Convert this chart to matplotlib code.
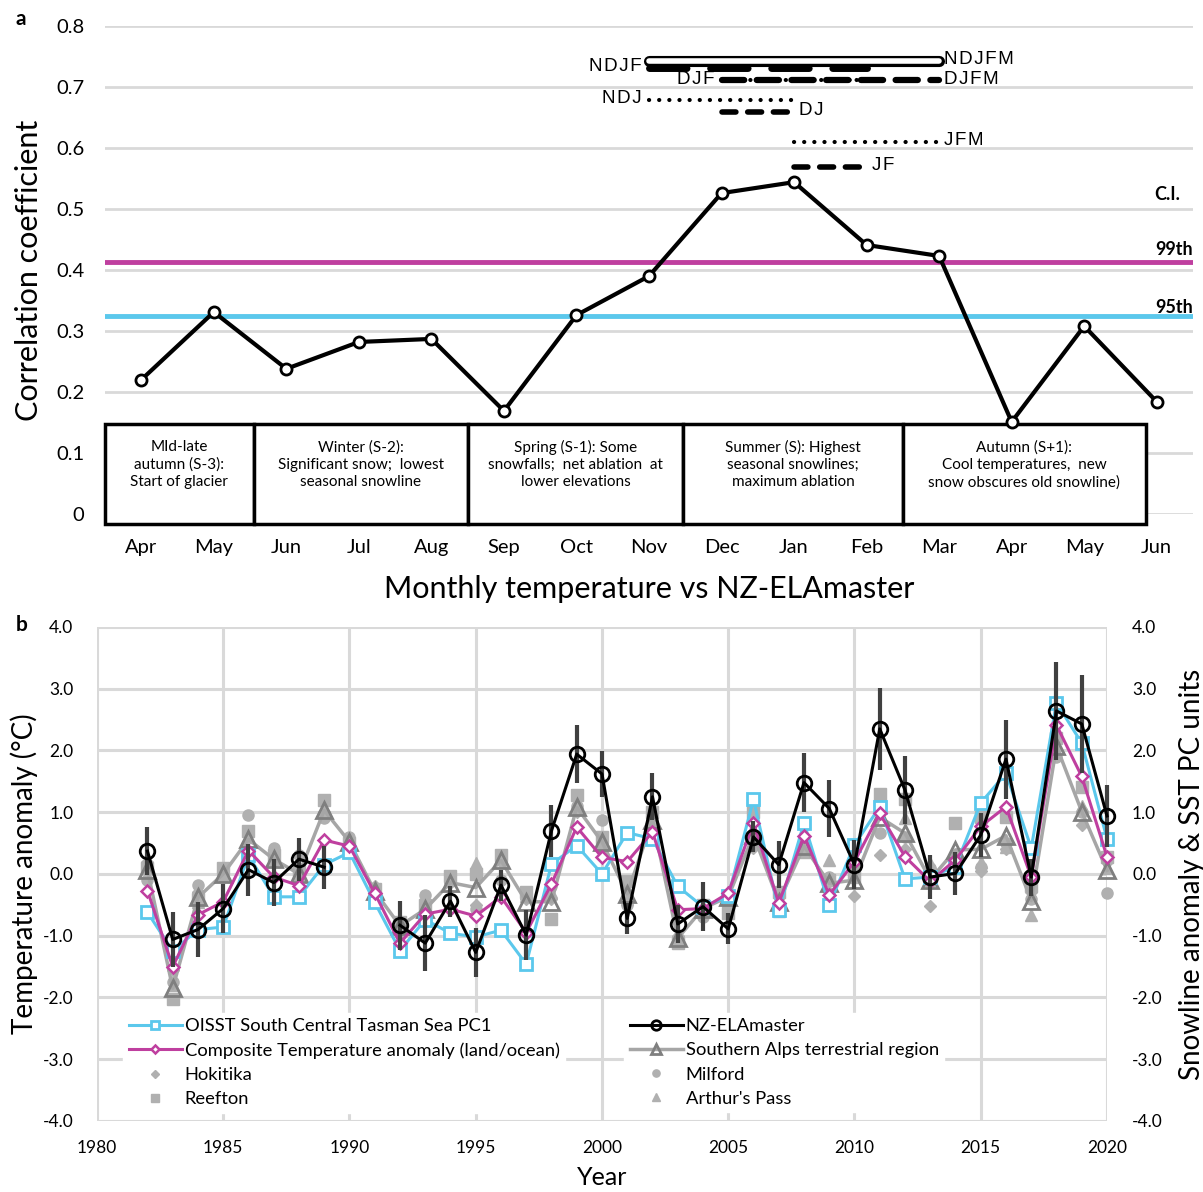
import numpy as np
import matplotlib.pyplot as plt
from matplotlib.patches import Rectangle

plt.rcParams['font.family'] = ['Lato', 'DejaVu Sans']
plt.rcParams['lines.scale_dashes'] = False

# ---- panel a: correlation of monthly temperature vs NZ-ELAmaster ----
months = ["Apr", "May", "Jun", "Jul", "Aug", "Sep", "Oct", "Nov",
          "Dec", "Jan", "Feb", "Mar", "Apr", "May", "Jun"]
corr = [0.220, 0.331, 0.238, 0.282, 0.287, 0.169, 0.326, 0.390,
        0.526, 0.544, 0.441, 0.423, 0.151, 0.308, 0.184]
ci_95 = 0.325
ci_99 = 0.413

seasons = ["NDJFM", "NDJF", "DJFM", "DJF", "NDJ", "DJ", "JFM", "JF"]
season_start = ["Nov", "Nov", "Dec", "Dec", "Nov", "Dec", "Jan", "Jan"]
season_end = ["Mar", "Feb", "Mar", "Feb", "Jan", "Jan", "Mar", "Feb"]
season_corr = [0.743, 0.731, 0.711, 0.711, 0.679, 0.659, 0.610, 0.569]

box_edges = [-0.5, 1.55, 4.5, 7.47, 10.5, 13.85]
box_texts = [
    "MId-late\nautumn (S-3):\nStart of glacier",
    "Winter (S-2):\nSignificant snow;  lowest\nseasonal snowline",
    "Spring (S-1): Some\nsnowfalls;  net ablation  at\nlower elevations",
    "Summer (S): Highest\nseasonal snowlines;\nmaximum ablation",
    "Autumn (S+1):\nCool temperatures,  new\nsnow obscures old snowline)",
]

# ---- panel b: temperature / snowline anomalies ----
years = list(range(1982, 2021))
oisst = [-0.62, -1.25, -0.90, -0.86, 0.30, -0.37, -0.37, 0.15, 0.35, -0.46,
         -1.24, -0.74, -0.96, -1.02, -0.91, -1.46, 0.16, 0.46, 0.00, 0.67,
         0.57, -0.20, -0.53, -0.36, 1.21, -0.59, 0.83, -0.50, 0.47, 1.09,
         -0.08, -0.05, 0.12, 1.15, 1.63, 0.42, 2.77, 2.12, 0.57]
nzela = [0.37, -1.06, -0.90, -0.56, 0.07, -0.14, 0.24, 0.11, np.nan, np.nan,
         -0.83, -1.12, -0.44, -1.27, -0.18, -0.99, 0.70, 1.94, 1.62, -0.72,
         1.25, -0.81, -0.53, -0.89, 0.60, 0.15, 1.48, 1.06, 0.15, 2.35,
         1.36, -0.05, 0.01, 0.63, 1.86, -0.05, 2.64, 2.43, 0.94]
nzela_err = [0.39, 0.45, 0.45, 0.39, 0.42, 0.38, 0.35, 0.35, np.nan, np.nan,
             0.40, 0.45, 0.25, 0.40, 0.25, 0.40, 0.42, 0.47, 0.37, 0.25,
             0.38, 0.30, 0.40, 0.25, 0.25, 0.38, 0.48, 0.46, 0.40, 0.66,
             0.55, 0.35, 0.35, 0.35, 0.64, 0.30, 0.80, 0.80, 0.50]
composite = [-0.27, -1.50, -0.66, -0.45, 0.38, -0.05, -0.19, 0.55, 0.45, -0.31,
             -1.12, -0.65, -0.57, -0.68, -0.37, -0.95, -0.16, 0.76, 0.27, 0.20,
             0.68, -0.58, -0.56, -0.31, 0.83, -0.47, 0.62, -0.34, 0.20, 0.98,
             0.28, -0.12, 0.23, 0.77, 1.09, -0.05, 2.41, 1.58, 0.28]
south_alps = [0.06, -1.85, -0.38, 0.00, 0.56, 0.24, 0.00, 1.03, 0.52, -0.28,
              -0.84, -0.57, -0.14, -0.22, 0.22, -0.45, -0.45, 1.08, 0.52, -0.32,
              0.87, -1.04, -0.56, -0.37, 0.63, -0.45, 0.45, -0.15, -0.10, 0.92,
              0.66, -0.09, 0.39, 0.40, 0.62, -0.43, 2.07, 1.01, 0.06]
hokitika = [0.20, -1.55, -0.30, 0.00, 0.65, 0.20, 0.10, 1.00, 0.50, -0.20,
            -0.90, -0.60, -0.15, -0.50, 0.20, -0.40, -0.40, 1.00, 0.40, -0.30,
            0.75, -1.00, -0.55, -0.40, 0.42, -0.50, 0.50, -0.30, -0.35, 0.31,
            0.40, -0.52, 0.20, 0.05, 0.40, -0.30, 2.00, 0.79, 0.20]
milford = [-0.10, -1.75, -0.18, -0.05, 0.95, 0.42, 0.30, 0.90, 0.60, -0.30,
           -0.95, -0.34, -0.10, -0.56, -0.10, -0.29, -0.20, 1.10, 0.87, -0.50,
           0.80, -1.05, -0.69, -0.50, 0.55, -0.35, 0.40, -0.05, 0.10, 0.66,
           0.60, 0.10, 0.30, 0.12, 0.50, -0.40, 1.90, 1.00, -0.31]
reefton = [0.10, -2.02, -0.40, 0.10, 0.70, 0.30, 0.05, 1.19, 0.50, -0.25,
           -0.77, -0.50, -0.04, 0.00, 0.30, -0.30, -0.73, 1.28, 0.60, -0.12,
           1.00, -1.12, -0.50, -0.64, 1.00, -0.30, 0.40, -0.10, -0.05, 1.29,
           1.21, -0.10, 0.82, 0.93, 0.93, -0.20, 2.20, 1.41, 0.28]
arthurs = [0.10, -1.80, -0.45, 0.05, 0.60, 0.25, 0.00, 1.05, 0.55, -0.30,
           -0.85, -0.55, -0.10, 0.17, 0.25, -0.35, -0.30, 1.15, 0.50, -0.40,
           0.60, -0.95, -0.50, -0.30, 0.70, -0.60, 0.35, 0.23, 0.05, 1.30,
           0.90, 0.18, 0.30, 0.20, 0.44, -0.66, 2.10, 1.10, 0.10]

MAGENTA = "#bf3f9f"
CYAN = "#5bc8ec"
GRID = "#d9d9d9"
STATION = "#b0b0b0"

fig = plt.figure(figsize=(12.03, 11.92), dpi=100)

# ================= panel a =================
ax = fig.add_axes([0.0873, 0.5688, 0.9044, 0.4094])
x = np.arange(len(months))
ax.set_xlim(-0.5, len(months) - 0.5)
ax.set_ylim(0, 0.8)
ax.set_yticks(np.arange(0, 0.81, 0.1))
ax.set_yticklabels(["0"] + ["%.1f" % v for v in np.arange(0.1, 0.81, 0.1)])
ax.set_xticks(x)
ax.set_xticklabels(months)
ax.tick_params(length=0, labelsize=14.5)
ax.tick_params(axis='y', pad=15)
ax.tick_params(axis='x', pad=18)
for s in ax.spines.values():
    s.set_visible(False)
ax.grid(axis='y', color=GRID, lw=2, zorder=0)
ax.set_axisbelow(True)

ax.axhline(ci_99, color=MAGENTA, lw=3.5, zorder=2)
ax.axhline(ci_95, color=CYAN, lw=3.5, zorder=2)
yt = ax.get_yaxis_transform()
ax.text(0.988, 0.523, "C.I.", transform=yt, ha='right', va='center',
        fontsize=13, fontweight='bold')
ax.text(1.0, ci_99 + 0.021, "99th", transform=yt, ha='right', va='center',
        fontsize=13, fontweight='bold')
ax.text(1.0, ci_95 + 0.014, "95th", transform=yt, ha='right', va='center',
        fontsize=13, fontweight='bold')

# season boxes
for i, txt in enumerate(box_texts):
    x0, x1 = box_edges[i], box_edges[i + 1]
    ax.add_patch(Rectangle((x0, -0.016), x1 - x0, 0.164, facecolor='white',
                           edgecolor='black', lw=2.5, clip_on=False, zorder=3))
    ax.text((x0 + x1) / 2, 0.081, txt, ha='center', va='center', fontsize=11,
            linespacing=1.3, zorder=4)

ax.plot(x, corr, color='black', lw=3, marker='o', ms=8, mfc='white',
        mec='black', mew=2, zorder=5, clip_on=False)

# seasonal window bars
styles = {
    "NDJF": dict(lw=5, ls=(0, (27, 17)), dash_capstyle='round'),
    "DJFM": dict(lw=4.5, ls=(0, (16, 9)), dash_capstyle='round'),
    "DJF": dict(lw=3, ls=(0, (0.1, 5)), dash_capstyle='round'),
    "NDJ": dict(lw=3, ls=(0, (0.1, 7.2)), dash_capstyle='round'),
    "JFM": dict(lw=3, ls=(0, (0.1, 7.2)), dash_capstyle='round'),
    "DJ": dict(lw=4, ls=(0, (10, 8.5)), dash_capstyle='round'),
    "JF": dict(lw=4, ls=(0, (10, 8.5)), dash_capstyle='round'),
}
left_label = ["NDJF", "DJF", "NDJ"]
label_font = ['Liberation Sans', 'DejaVu Sans']
for name, s0, s1, c in zip(seasons, season_start, season_end, season_corr):
    xs = [months.index(s0), months.index(s1)]
    if name == "NDJFM":
        ax.plot(xs, [c, c], color='black', lw=8, solid_capstyle='round', zorder=6)
        ax.plot(xs, [c, c], color='white', lw=4, solid_capstyle='round', zorder=6)
    else:
        ax.plot(xs, [c, c], color='black', zorder=6, **styles[name])
    spaced = "\u200a".join(name)
    if name in left_label:
        ax.text(xs[0] - 0.1, c + 0.002, spaced, ha='right', va='center',
                fontsize=13.5, family=label_font, zorder=7)
    else:
        ax.text(xs[1] + 0.07, c + 0.002, spaced, ha='left', va='center',
                fontsize=13.5, family=label_font, zorder=7)

ax.set_ylabel("Correlation coefficient", fontsize=22, labelpad=9)
ax.set_xlabel("Monthly temperature vs NZ-ELAmaster", fontsize=22, labelpad=14)
fig.text(0.013, 0.984, "a", fontsize=15, fontweight='bold', va='center')

# ================= panel b =================
bx = fig.add_axes([0.0806, 0.0596, 0.8396, 0.4144])
bx.set_xlim(1980, 2020)
bx.set_ylim(-4, 4)
bx.set_xticks(range(1980, 2021, 5))
bx.set_yticks(np.arange(-4, 4.01, 1))
bx.yaxis.set_major_formatter(plt.FormatStrFormatter('%.1f'))
bx.tick_params(length=0, labelsize=12.5)
bx.tick_params(axis='y', pad=17)
bx.tick_params(axis='x', pad=14)
for s in bx.spines.values():
    s.set_visible(False)
bx.grid(True, color=GRID, lw=2.2, zorder=0)
bx.set_axisbelow(True)

bxr = bx.twinx()
bxr.set_ylim(-4, 4)
bxr.set_yticks(np.arange(-4, 4.01, 1))
bxr.yaxis.set_major_formatter(plt.FormatStrFormatter('%.1f'))
bxr.tick_params(length=0, labelsize=12.5, pad=18)
for s in bxr.spines.values():
    s.set_visible(False)
bxr.set_ylabel("Snowline anomaly & SST PC units", fontsize=20, labelpad=12)

h_hok, = bx.plot(years, hokitika, ls='none', marker='D', ms=6, color=STATION,
                 zorder=2, clip_on=False)
h_mil, = bx.plot(years, milford, ls='none', marker='o', ms=8, color=STATION,
                 zorder=2, clip_on=False)
h_ree, = bx.plot(years, reefton, ls='none', marker='s', ms=8, color=STATION,
                 zorder=2, clip_on=False)
h_art, = bx.plot(years, arthurs, ls='none', marker='^', ms=8, color=STATION,
                 zorder=2, clip_on=False)

h_sa, = bx.plot(years, south_alps, color='#a6a6a6', lw=2.5, marker='^', ms=11,
                mfc='none', mec='#7f7f7f', mew=2, zorder=3, clip_on=False)
h_oi, = bx.plot(years, oisst, color=CYAN, lw=2.2, marker='s', ms=8,
                mfc='white', mec=CYAN, mew=2, zorder=4, clip_on=False)
h_co, = bx.plot(years, composite, color=MAGENTA, lw=2.2, marker='D', ms=6.5,
                mfc='white', mec=MAGENTA, mew=1.8, zorder=5, clip_on=False)
bx.errorbar(years, nzela, yerr=nzela_err, fmt='none', ecolor='#404040',
            elinewidth=3, zorder=6, clip_on=False)
h_nz, = bx.plot(years, nzela, color='black', lw=2.2, marker='o', ms=10.5,
                mfc='none', mec='black', mew=2, zorder=7, clip_on=False)

leg_kw = dict(loc='upper left', frameon=True, fancybox=False, edgecolor='white',
              facecolor='white', framealpha=1, fontsize=13.2, handlelength=2.9,
              handletextpad=0.15, labelspacing=0.45, borderpad=0.3, markerscale=0.65)
leg1 = bx.legend([h_oi, h_co, h_hok, h_ree],
                 ["OISST South Central Tasman Sea PC1",
                  "Composite Temperature anomaly (land/ocean)",
                  "Hokitika", "Reefton"],
                 bbox_to_anchor=(0.017, 0.238), **leg_kw)
leg2 = bx.legend([h_nz, h_sa, h_mil, h_art],
                 ["NZ-ELAmaster", "Southern Alps terrestrial region",
                  "Milford", "Arthur's Pass"],
                 bbox_to_anchor=(0.513, 0.238), **leg_kw)
bx.add_artist(leg1)
leg1.set_zorder(10)
leg2.set_zorder(10)

bx.set_ylabel("Temperature anomaly (°C)", fontsize=20, labelpad=3)
bx.set_xlabel("Year", fontsize=18, labelpad=7)
fig.text(0.013, 0.476, "b", fontsize=15, fontweight='bold', va='center')

fig.savefig("out.png", dpi=100)
